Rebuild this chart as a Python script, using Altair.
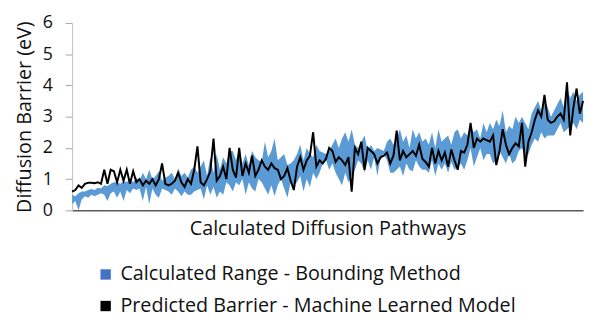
import altair as alt
import pandas as pd

# Predicted barrier (machine learned model), eV
pred = [
    0.6, 0.65, 0.8, 0.72, 0.85, 0.88, 0.88, 0.87, 0.9, 0.85,
    1.3, 0.85, 1.3, 1.25, 0.9, 1.3, 0.95, 1.3, 0.85, 1.25,
    0.9, 1.0, 0.8, 0.95, 0.85, 1.0, 0.8, 1.0, 1.5, 0.85,
    0.8, 0.85, 0.95, 1.2, 0.9, 0.75, 1.0, 0.85, 1.3, 2.05,
    0.9, 0.8, 1.0, 1.25, 2.3, 0.95, 1.1, 1.4, 1.0, 2.0,
    1.3, 1.05, 2.0, 1.1, 1.5, 1.2, 1.75, 1.1, 1.3, 1.6,
    1.4, 1.3, 1.5, 1.35, 1.3, 1.0, 1.1, 1.35, 0.95, 0.65,
    1.4, 1.7, 1.3, 1.6, 1.75, 2.5, 1.4, 1.6, 1.5, 1.65,
    2.0, 1.9, 1.55, 1.7, 1.6, 1.45, 1.7, 0.6, 2.0, 1.8,
    2.2, 1.3, 2.0, 1.9, 1.8, 1.5, 1.7, 1.75, 1.85, 1.5,
    1.75, 2.55, 1.6, 1.9, 1.7, 1.8, 1.9, 1.75, 2.1, 1.65,
    1.55, 1.4, 2.0, 1.5, 1.9, 1.6, 1.85, 1.4, 1.95, 1.6,
    1.3, 1.9, 1.85, 2.1, 2.8, 2.0, 2.3, 2.2, 2.3, 2.25,
    2.2, 2.4, 1.45, 1.9, 2.6, 2.1, 1.8, 2.0, 2.15, 2.05,
    2.8, 1.4, 2.2, 2.5, 2.9, 3.2, 3.0, 3.7, 2.9, 2.8,
    2.85, 3.0, 3.1, 2.9, 4.1, 2.4, 3.3, 3.9, 3.1, 3.5,
]

# Calculated range (bounding method): lower and upper bounds, eV
low = [
    0.2, 0.3, 0.0, 0.35, 0.45, 0.4, 0.5, 0.45, 0.5, 0.55,
    0.5, 0.3, 0.55, 0.6, 0.4, 0.6, 0.3, 0.65, 0.55, 0.7,
    0.65, 0.7, 0.3, 0.75, 0.2, 0.7, 0.5, 0.4, 0.7, 0.65,
    0.6, 0.5, 0.7, 0.6, 0.45, 0.6, 0.5, 0.5, 0.6, 0.65,
    0.7, 0.35, 0.8, 0.5, 0.75, 0.4, 0.6, 0.5, 0.9, 0.8,
    0.6, 0.9, 0.8, 1.0, 0.5, 0.9, 0.7, 0.6, 1.0, 0.9,
    0.7, 0.5, 0.8, 0.45, 0.8, 1.0, 0.7, 0.4, 0.9, 0.8,
    0.9, 1.1, 0.6, 1.0, 0.75, 1.2, 1.0, 1.2, 1.5, 1.6,
    1.3, 1.5, 1.2, 1.0, 0.8, 1.2, 0.9, 1.1, 1.3, 1.6,
    1.5, 1.2, 1.6, 1.3, 1.7, 1.1, 1.7, 1.8, 1.6, 1.2,
    1.2, 1.3, 1.4, 1.1, 1.5, 1.3, 1.25, 1.6, 1.4, 1.3,
    1.3, 1.2, 1.6, 1.1, 1.5, 1.3, 1.5, 1.2, 1.55, 1.3,
    1.4, 1.5, 1.3, 1.6, 2.0, 1.4, 1.7, 2.0, 1.6, 1.8,
    1.8, 1.5, 1.6, 1.9, 1.7, 1.5, 1.8, 1.5, 1.6, 1.9,
    2.0, 1.7, 1.8, 2.1, 2.3, 2.2, 2.5, 2.3, 2.4, 2.4,
    2.4, 2.6, 2.8, 2.5, 2.6, 2.7, 2.8, 2.6, 2.9, 2.8,
]

high = [
    0.5, 0.45, 0.55, 0.6, 0.6, 0.65, 0.68, 0.65, 0.72, 0.7,
    0.8, 0.78, 0.85, 0.9, 0.9, 0.85, 0.95, 0.9, 1.0, 0.9,
    1.05, 0.95, 1.2, 1.0, 1.3, 1.0, 1.1, 1.25, 0.95, 1.05,
    1.1, 1.2, 1.0, 1.35, 1.1, 1.2, 1.05, 1.3, 1.4, 1.2,
    1.4, 1.6, 1.1, 1.7, 1.2, 1.8, 1.3, 1.7, 1.5, 1.9,
    1.9, 1.6, 2.0, 1.5, 1.8, 1.45, 1.9, 1.7, 1.6, 1.55,
    2.2, 1.7, 1.9, 2.3, 1.6, 1.7, 1.8, 1.45, 1.5, 1.6,
    1.8, 2.1, 1.6, 2.0, 1.8, 1.7, 2.1, 1.9, 1.85, 1.8,
    1.9, 2.1, 2.3, 2.0, 2.3, 2.5, 2.2, 2.6, 2.1, 2.0,
    2.2, 2.4, 1.9, 2.1, 1.9, 2.0, 1.95, 1.9, 2.2, 2.3,
    2.1, 2.3, 2.6, 2.2, 2.4, 2.0, 2.6, 2.3, 2.5, 2.2,
    2.3, 2.1, 2.5, 2.0, 2.6, 2.2, 2.3, 2.4, 2.1, 2.5,
    2.6, 2.3, 2.5, 2.4, 2.7, 2.5, 2.6, 2.3, 2.8, 2.5,
    2.8, 2.6, 2.9, 2.7, 3.2, 2.5, 2.7, 2.6, 3.0, 2.8,
    3.0, 2.8, 2.6, 3.1, 3.3, 3.5, 3.2, 3.5, 3.3, 3.0,
    3.2, 3.4, 3.6, 3.3, 3.9, 3.6, 3.8, 3.5, 3.7, 3.8,
]

series_names = ["Calculated Range - Bounding Method",
                "Predicted Barrier - Machine Learned Model"]
y_ticks = [0, 1, 2, 3, 4, 5, 6]

N = len(pred)
df = pd.DataFrame({"i": list(range(N)), "pred": pred, "low": low, "high": high})
leg_df = pd.DataFrame({"s": series_names, "i": [0, 0], "v": [-5, -5]})

FONT = "Open Sans"
TXT = "#111111"

x_scale = alt.Scale(domain=[0, N - 1], nice=False, zero=False)
x_axis = alt.Axis(
    title="Calculated Diffusion Pathways",
    ticks=False, labels=False, grid=False,
    domainColor="#595959", domainWidth=1.5,
    titleFontSize=20, titleFontWeight="normal", titleColor=TXT,
    titleFont=FONT, titlePadding=8,
)
y_scale = alt.Scale(domain=[0, 6], nice=False, zero=False)
y_axis = alt.Axis(
    title="Diffusion Barrier (eV)", values=y_ticks, tickCount=len(y_ticks),
    grid=False, labelOverlap=False,
    domainColor="#BFBFBF", tickColor="#A6A6A6", tickSize=7,
    labelFontSize=18, labelFont=FONT, labelColor=TXT, labelPadding=13,
    titleFontSize=20, titleFont=FONT, titleFontWeight="normal",
    titleColor=TXT, titlePadding=8,
)

base = alt.Chart(df)
area = base.mark_area(color="#5B9BD5").encode(
    x=alt.X("i:Q", scale=x_scale, axis=x_axis),
    y=alt.Y("low:Q", scale=y_scale, axis=y_axis),
    y2="high:Q",
)
line = base.mark_line(color="black", strokeWidth=2).encode(
    x=alt.X("i:Q", scale=x_scale, axis=x_axis),
    y=alt.Y("pred:Q", scale=y_scale, axis=y_axis),
)
legend_layer = alt.Chart(leg_df).mark_square(clip=True, size=110, opacity=1).encode(
    x=alt.X("i:Q", scale=x_scale, axis=x_axis),
    y=alt.Y("v:Q", scale=y_scale, axis=y_axis),
    color=alt.Color(
        "s:N",
        scale=alt.Scale(domain=series_names, range=["#4472C4", "#000000"]),
        legend=alt.Legend(
            title=None, orient="none", legendX=24, legendY=245,
            direction="vertical", symbolType="square", symbolSize=110,
            labelFontSize=20, labelFont=FONT, labelColor=TXT,
            labelOffset=5, rowPadding=12, padding=0, labelLimit=600,
        ),
    ),
)

chart = alt.layer(area, line, legend_layer).properties(
    width=518, height=190,
    padding={"left": 6, "top": 4, "right": 0, "bottom": 0},
).configure_view(stroke=None)

chart.save("out.html", embed_options={"renderer": "svg", "actions": False})
